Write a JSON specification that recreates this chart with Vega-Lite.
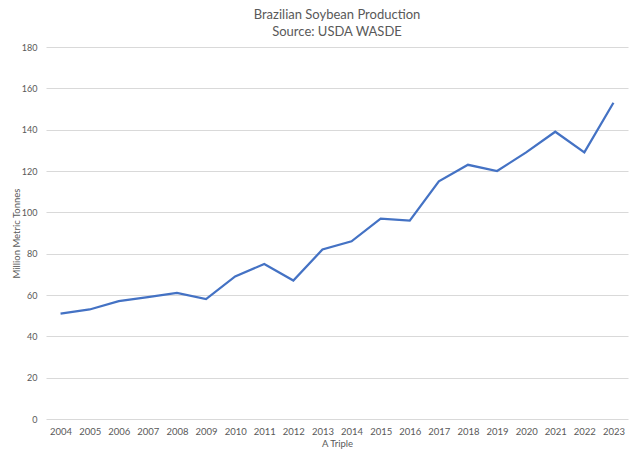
{
  "$schema": "https://vega.github.io/schema/vega-lite/v6.json",
  "autosize": {"type": "none"},
  "padding": {"left": 46, "top": 47, "right": 4, "bottom": 40},
  "width": 582,
  "height": 372,
  "background": "white",
  "config": {"view": {"stroke": null}, "font": "Lato"},
  "title": {
    "text": ["Brazilian Soybean Production", "Source: USDA WASDE"],
    "anchor": "middle",
    "font": "Lato",
    "fontSize": 13,
    "fontWeight": "normal",
    "color": "#595959",
    "lineHeight": 17,
    "offset": 4
  },
  "data": {
    "values": [
      {"year": "2004", "value": 51},
      {"year": "2005", "value": 53},
      {"year": "2006", "value": 57},
      {"year": "2007", "value": 59},
      {"year": "2008", "value": 61},
      {"year": "2009", "value": 58},
      {"year": "2010", "value": 69},
      {"year": "2011", "value": 75},
      {"year": "2012", "value": 67},
      {"year": "2013", "value": 82},
      {"year": "2014", "value": 86},
      {"year": "2015", "value": 97},
      {"year": "2016", "value": 96},
      {"year": "2017", "value": 115},
      {"year": "2018", "value": 123},
      {"year": "2019", "value": 120},
      {"year": "2020", "value": 129},
      {"year": "2021", "value": 139},
      {"year": "2022", "value": 129},
      {"year": "2023", "value": 153}
    ]
  },
  "mark": {"type": "line", "color": "#4472C4", "strokeWidth": 2.25},
  "encoding": {
    "x": {
      "field": "year",
      "type": "ordinal",
      "scale": {"type": "point", "padding": 0.5},
      "axis": {
        "title": "A Triple",
        "titleFont": "Lato",
        "titleFontSize": 9.5,
        "titleFontWeight": "normal",
        "titleColor": "#595959",
        "titlePadding": 3,
        "labelAngle": 0,
        "labelFont": "Lato",
        "labelFontSize": 9.5,
        "labelColor": "#595959",
        "labelPadding": 7,
        "domain": false,
        "ticks": false,
        "grid": false
      }
    },
    "y": {
      "field": "value",
      "type": "quantitative",
      "scale": {"domain": [0, 180], "nice": false},
      "axis": {
        "title": "Million Metric Tonnes",
        "titleFont": "Lato",
        "titleFontSize": 9.5,
        "titleFontWeight": "normal",
        "titleColor": "#595959",
        "titleX": -25,
        "titleBaseline": "bottom",
        "values": [0, 20, 40, 60, 80, 100, 120, 140, 160, 180],
        "labelFont": "Lato",
        "labelFontSize": 9,
        "labelColor": "#595959",
        "labelPadding": 9,
        "domain": false,
        "ticks": false,
        "grid": true,
        "gridColor": "#d9d9d9",
        "gridWidth": 1
      }
    }
  }
}
